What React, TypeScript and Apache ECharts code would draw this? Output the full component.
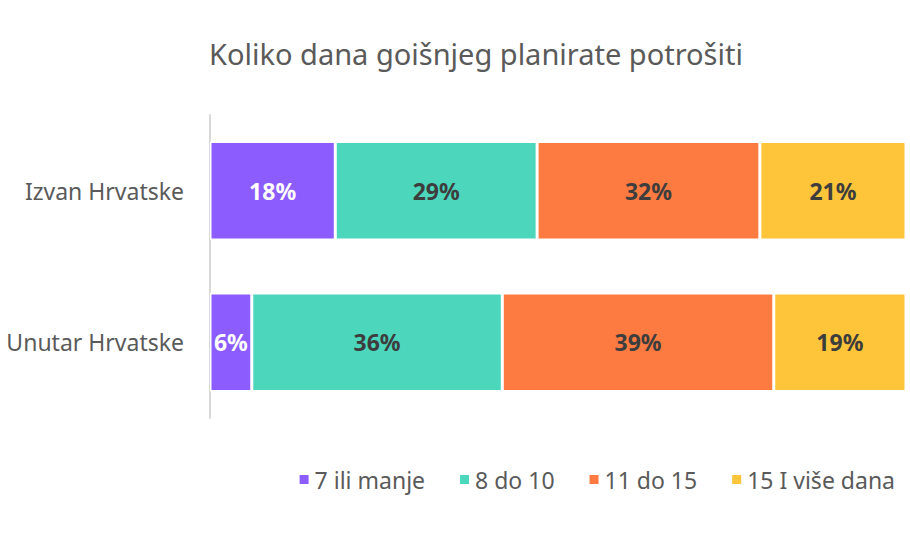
import React, { useEffect, useRef } from "react";
import * as echarts from "echarts";

const categories = ["Izvan Hrvatske", "Unutar Hrvatske"];
const seriesNames = ["7 ili manje", "8 do 10", "11 do 15", "15 I više dana"];
const s7iliManje = [18, 6];
const s8do10 = [29, 36];
const s11do15 = [32, 39];
const s15iVise = [21, 19];
const colors = ["#8c5cff", "#4cd7bd", "#fd7b41", "#fec53a"];
const labelColors = ["#ffffff", "#3d3d3d", "#3d3d3d", "#3d3d3d"];

const FONT = "Noto Sans";

export default function App() {
  const ref = useRef<HTMLDivElement>(null);
  useEffect(() => {
    if (!ref.current) return;
    const chart = echarts.init(ref.current, null, { renderer: "svg" });
    const values = [s7iliManje, s8do10, s11do15, s15iVise];
    chart.setOption({
      animation: false,
      title: {
        text: "Koliko dana goišnjeg planirate potrošiti",
        left: 471,
        textAlign: "center",
        top: 34,
        textStyle: {
          fontFamily: FONT,
          fontSize: 29,
          fontWeight: "normal",
          color: "#5a5a5a",
        },
      },
      legend: {
        right: 10,
        top: 463,
        icon: "rect",
        itemWidth: 11,
        itemHeight: 11,
        itemGap: 33,
        textStyle: { fontFamily: FONT, fontSize: 23, color: "#5a5a5a" },
        data: seriesNames,
      },
      grid: {
        left: 210,
        right: 4,
        top: 115,
        bottom: 128,
        containLabel: false,
        outerBoundsMode: "none",
      },
      xAxis: {
        type: "value",
        min: 0,
        max: 100,
        show: false,
      },
      yAxis: {
        type: "category",
        data: categories,
        inverse: true,
        axisLine: { show: true, lineStyle: { color: "#d9d9d9", width: 2 } },
        axisTick: { show: false },
        axisLabel: {
          margin: 26,
          fontFamily: FONT,
          fontSize: 23,
          color: "#5a5a5a",
        },
      },
      series: seriesNames.map((name, i) => ({
        name,
        type: "bar",
        stack: "total",
        barWidth: "65%",
        data: values[i],
        itemStyle: { color: colors[i], borderColor: "#ffffff", borderWidth: 1.5 },
        label: {
          show: true,
          position: "inside",
          formatter: "{c}%",
          fontFamily: FONT,
          fontSize: 23,
          fontWeight: "bold",
          color: labelColors[i],
        },
      })),
    });
    return () => chart.dispose();
  }, []);
  return (
    <div
      ref={ref}
      style={{ position: "absolute", left: 0, top: 0, width: 910, height: 546 }}
    />
  );
}
